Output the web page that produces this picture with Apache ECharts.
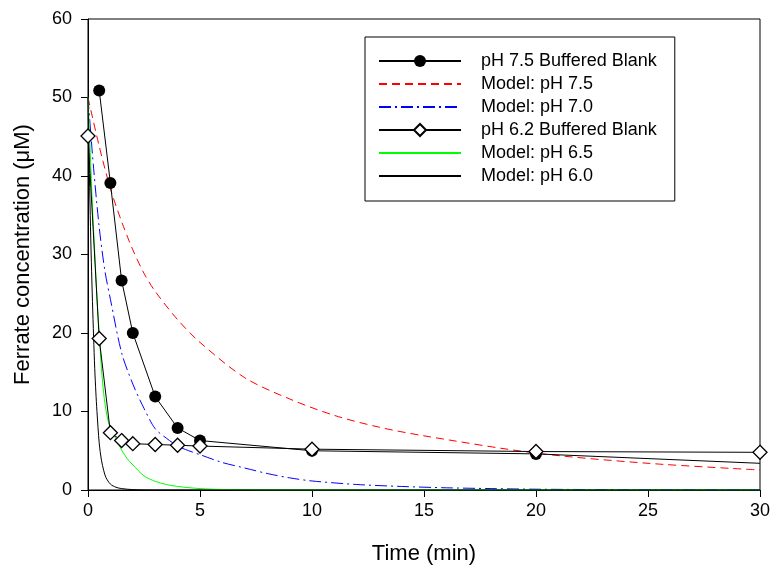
<!DOCTYPE html>
<html>
<head>
<meta charset="utf-8">
<script src="https://cdn.jsdelivr.net/npm/echarts@6/dist/echarts.min.js"></script>
<style>
  html, body { margin: 0; padding: 0; background: #fff; }
  #chart { width: 772px; height: 567px; }
</style>
</head>
<body>
<div id="chart"></div>
<script>
var dom = document.getElementById("chart");
var myChart = echarts.init(dom);

// measured data (filled circles / open diamonds)
var timeBlank75 = [0.5, 1, 1.5, 2, 3, 4, 5, 10, 20, 30];
var concBlank75 = [50.9, 39.1, 26.7, 20.0, 11.9, 7.9, 6.3, 5.0, 4.6, 3.4];
var timeBlank62 = [0, 0.5, 1, 1.5, 2, 3, 4, 5, 10, 20, 30];
var concBlank62 = [45.1, 19.3, 7.3, 6.3, 5.9, 5.8, 5.7, 5.6, 5.2, 4.9, 4.8];

// model curves
var timeModel75 = [0, 0.5, 1, 1.5, 2, 2.5, 3, 4, 5, 7, 9, 11, 13, 15, 20, 25, 30];
var concModel75 = [50, 43.8, 38.4, 34.2, 30.6, 27.6, 25.3, 21.7, 18.8, 14.3, 11.6, 9.5, 8.0, 6.9, 4.7, 3.4, 2.55];
var timeModel70 = [0, 0.25, 0.5, 0.75, 1, 1.5, 2, 2.5, 3, 3.5, 4, 4.5, 5, 6, 7, 8, 9, 10, 12, 14, 16, 18, 20, 25, 30];
var concModel70 = [50, 41, 33.5, 28, 24.3, 17.5, 13.5, 10.4, 7.8, 6.6, 5.6, 5.0, 4.5, 3.5, 2.8, 2.1, 1.55, 1.15, 0.7, 0.45, 0.28, 0.18, 0.1, 0.03, 0.01];
var timeModel65 = [0, 0.1, 0.2, 0.3, 0.4, 0.5, 0.6, 0.7, 0.8, 0.9, 1, 1.25, 1.5, 1.75, 2, 2.5, 3, 3.5, 4, 5, 6, 7, 8, 10, 30];
var concModel65 = [50, 43, 36, 30.3, 24.5, 20, 15.5, 12.3, 10.2, 8.8, 7.9, 6.5, 5.1, 4.0, 3.2, 1.8, 1.1, 0.7, 0.45, 0.18, 0.07, 0.03, 0.01, 0, 0];
var timeModel60 = [0, 0.05, 0.1, 0.15, 0.2, 0.25, 0.3, 0.35, 0.4, 0.5, 0.6, 0.7, 0.8, 1, 1.25, 1.5, 2, 3, 30];
var concModel60 = [50, 42, 35, 29, 24, 19.5, 15.5, 12.5, 10, 6, 3.8, 2.5, 1.6, 0.75, 0.35, 0.18, 0.05, 0, 0];

var seriesNames = ["pH 7.5 Buffered Blank", "Model: pH 7.5", "Model: pH 7.0",
                   "pH 6.2 Buffered Blank", "Model: pH 6.5", "Model: pH 6.0"];

function pairs(xs, ys) {
    return xs.map(function (x, i) { return [x, ys[i]]; });
}

var font = "Liberation Sans, Arial, sans-serif";
// model lines: legend shows only the line, no marker
var noMarker = { opacity: 0, borderWidth: 0 };

var option = {
    animation: false,
    backgroundColor: "#fff",
    textStyle: { fontFamily: font, color: "#000" },
    grid: {
        left: 88, right: 12, top: 19, bottom: 77,
        outerBoundsMode: "none",
        show: true, borderColor: "#000", borderWidth: 1
    },
    legend: {
        orient: "vertical",
        left: 365, top: 37,
        padding: [15, 18, 16, 13],
        itemWidth: 82, itemHeight: 15, itemGap: 5,
        borderColor: "#000", borderWidth: 1,
        backgroundColor: "#fff",
        textStyle: { fontSize: 18, color: "#000", fontFamily: font, padding: [0, 0, 0, 15] },
        data: [
            { name: seriesNames[0] },
            { name: seriesNames[1], itemStyle: noMarker },
            { name: seriesNames[2], itemStyle: noMarker },
            { name: seriesNames[3] },
            { name: seriesNames[4], itemStyle: noMarker },
            { name: seriesNames[5], itemStyle: noMarker }
        ]
    },
    xAxis: {
        type: "value", min: 0, max: 30, interval: 5,
        name: "Time (min)", nameLocation: "middle", nameGap: 53,
        nameTextStyle: { fontSize: 22, color: "#000" },
        axisLine: { lineStyle: { color: "#000", width: 1 } },
        axisTick: { length: 7, lineStyle: { color: "#000" } },
        axisLabel: { fontSize: 18, color: "#000", margin: 12 },
        splitLine: { show: false }
    },
    yAxis: {
        type: "value", min: 0, max: 60, interval: 10,
        name: "Ferrate concentration (μM)", nameLocation: "middle", nameGap: 54,
        nameTextStyle: { fontSize: 22, color: "#000" },
        axisLine: { show: true, lineStyle: { color: "#000", width: 1 } },
        axisTick: { show: true, length: 7, lineStyle: { color: "#000" } },
        axisLabel: { fontSize: 18, color: "#000", margin: 16 },
        splitLine: { show: false }
    },
    series: [
        {
            name: seriesNames[0], type: "line", z: 5,
            data: pairs(timeBlank75, concBlank75),
            symbol: "circle",
            symbolSize: function (v) { return v[0] >= 30 ? 0 : 12; },
            itemStyle: { color: "#000" },
            lineStyle: { color: "#000", width: 1 }
        },
        {
            name: seriesNames[1], type: "line", showSymbol: false, symbol: "none",
            smooth: 0.3,
            data: pairs(timeModel75, concModel75),
            itemStyle: { color: "#ff0000" },
            lineStyle: { color: "#ff0000", width: 1, type: [8, 5] }
        },
        {
            name: seriesNames[2], type: "line", showSymbol: false, symbol: "none",
            smooth: 0.3,
            data: pairs(timeModel70, concModel70),
            itemStyle: { color: "#0000ff" },
            lineStyle: { color: "#0000ff", width: 1, type: [12, 4, 2, 4] }
        },
        {
            name: seriesNames[3], type: "line", z: 6,
            data: pairs(timeBlank62, concBlank62),
            symbol: "diamond", symbolSize: 14,
            itemStyle: { color: "#fff", borderColor: "#000", borderWidth: 1.3 },
            lineStyle: { color: "#000", width: 1 }
        },
        {
            name: seriesNames[4], type: "line", showSymbol: false, symbol: "none",
            smooth: 0.3,
            data: pairs(timeModel65, concModel65),
            itemStyle: { color: "#00ff00" },
            lineStyle: { color: "#00ff00", width: 1 }
        },
        {
            name: seriesNames[5], type: "line", showSymbol: false, symbol: "none",
            smooth: 0.3,
            data: pairs(timeModel60, concModel60),
            itemStyle: { color: "#000" },
            lineStyle: { color: "#000", width: 1 }
        }
    ]
};
myChart.setOption(option);
</script>
</body>
</html>
